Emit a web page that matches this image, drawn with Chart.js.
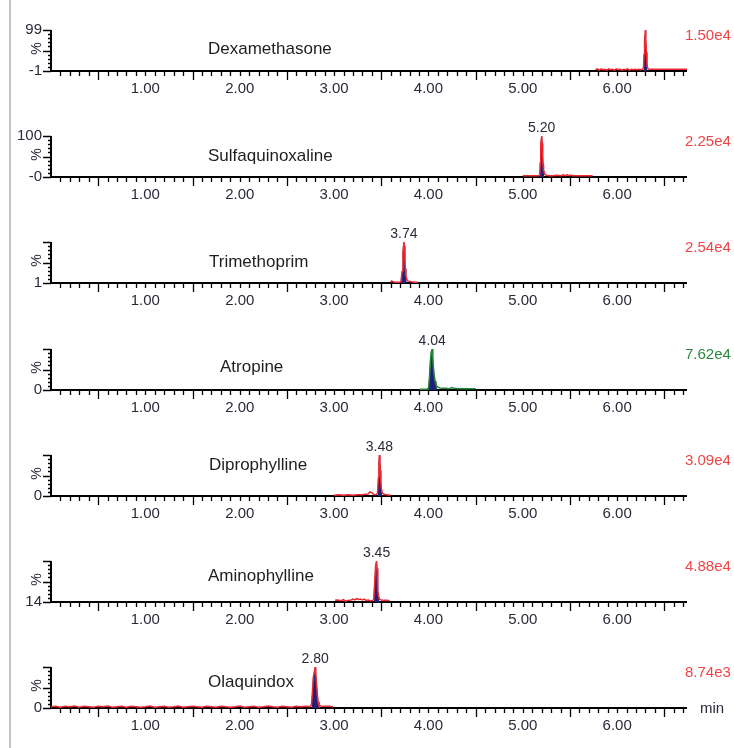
<!DOCTYPE html>
<html lang="en">
<head>
<meta charset="UTF-8">
<title>MRM chromatograms</title>
<style>
  body { margin: 0; width: 734px; height: 748px; overflow: hidden; background: #fff; position: relative; }
  .frame { position: absolute; left: 9px; top: 0; width: 2px; height: 748px; background: #c4c4c4; }
  canvas { position: absolute; left: 0; }
</style>
</head>
<body>
<div class="frame"></div>
<div id="panels"></div>

<script src="https://cdn.jsdelivr.net/npm/chart.js"></script>
<script>
const compounds = ['Dexamethasone', 'Sulfaquinoxaline', 'Trimethoprim', 'Atropine', 'Diprophylline', 'Aminophylline', 'Olaquindox'];
const intensities = ['1.50e4', '2.25e4', '2.54e4', '7.62e4', '3.09e4', '4.88e4', '8.74e3'];
const peakLabels = ['', '5.20', '3.74', '4.04', '3.48', '3.45', '2.80'];
const peakTimes = [6.30, 5.20, 3.74, 4.04, 3.48, 3.45, 2.80];
const yTopLabels = ['99', '100', '', '', '', '', ''];
const yBottomLabels = ['-1', '-0', '1', '0', '0', '14', '0'];
const xTickValues = [1, 2, 3, 4, 5, 6];
const xTickLabels = ['1.00', '2.00', '3.00', '4.00', '5.00', '6.00'];
// integrated (shaded) window of each peak, minutes
const areaStart = [6.28, 5.18, 3.71, 4.00, 3.46, 3.42, 2.75];
const areaEnd = [6.32, 5.24, 3.77, 4.09, 3.51, 3.49, 2.85];

// traces: [time (min), relative intensity %]
const dexaTrace = [[5.77,3],[5.79,5],[5.81,2],[5.83,5],[5.85,3],[5.87,4],[5.89,2],[5.91,5],[5.93,3],[5.95,4],[5.97,2],[5.99,5],
  [6.01,3],[6.03,4],[6.05,2],[6.07,4],[6.09,3],[6.11,5],[6.13,2],[6.15,4],[6.17,3],[6.19,4],[6.21,3],[6.23,4],[6.25,3],[6.27,4],
  [6.28,10],[6.285,40],[6.29,68],[6.295,88],[6.30,100],[6.305,80],[6.31,45],[6.315,20],[6.32,9],[6.33,5],[6.35,4],[6.45,4],
  [6.55,4],[6.65,4],[6.74,4]];
const sulfaTrace = [[5.00,3],[5.05,3],[5.10,3],[5.15,3],[5.17,3],[5.18,6],[5.185,35],[5.19,78],[5.20,100],[5.205,82],[5.21,55],
  [5.215,30],[5.22,17],[5.23,8],[5.25,4],[5.28,3],[5.32,3],[5.36,4],[5.41,3],[5.43,6],[5.45,3],[5.47,6],[5.49,3],[5.51,5],
  [5.53,3],[5.60,3],[5.68,3],[5.74,3]];
const trimTrace = [[3.60,2],[3.61,5],[3.62,4],[3.64,2],[3.67,2],[3.70,2],[3.71,5],[3.72,28],[3.73,75],[3.74,100],[3.745,90],
  [3.75,58],[3.755,35],[3.76,20],[3.77,9],[3.78,5],[3.80,4],[3.82,3],[3.85,2],[3.89,2]];
const atroTrace = [[3.91,2],[3.95,2],[3.99,2],[4.00,5],[4.01,28],[4.02,68],[4.03,93],[4.04,100],[4.045,86],[4.05,62],[4.06,37],
  [4.07,21],[4.08,13],[4.09,9],[4.10,7],[4.12,5],[4.15,4],[4.18,4],[4.22,3],[4.25,6],[4.27,4],[4.32,3],[4.38,3],[4.44,3],[4.50,3]];
const dipTrace = [[3.00,2],[3.05,3],[3.10,2],[3.15,3],[3.20,2],[3.25,3],[3.30,3],[3.33,4],[3.36,5],[3.38,10],[3.40,8],[3.42,4],
  [3.44,3],[3.46,6],[3.47,45],[3.475,80],[3.48,100],[3.485,88],[3.49,62],[3.495,38],[3.50,20],[3.51,7],[3.53,4],[3.56,3],[3.60,2]];
const aminoTrace = [[3.01,4],[3.04,5],[3.07,3],[3.10,6],[3.12,2],[3.15,4],[3.18,5],[3.20,7],[3.22,5],[3.24,8],[3.26,6],[3.28,7],
  [3.30,5],[3.32,7],[3.34,4],[3.36,5],[3.38,3],[3.40,3],[3.42,6],[3.43,45],[3.44,88],[3.45,100],[3.455,82],[3.46,52],[3.465,30],
  [3.47,16],[3.48,7],[3.50,5],[3.53,4],[3.56,4],[3.59,3]];
const olaTrace = [[0.00,3],[0.05,4],[0.10,2],[0.15,4],[0.20,3],[0.25,5],[0.30,2],[0.35,4],[0.40,3],[0.45,2],[0.50,4],[0.55,3],
  [0.60,5],[0.65,2],[0.70,3],[0.75,4],[0.80,2],[0.85,4],[0.90,3],[0.95,2],[1.00,3],[1.05,5],[1.10,2],[1.15,3],[1.20,4],[1.25,2],
  [1.30,3],[1.35,5],[1.40,2],[1.45,3],[1.50,4],[1.55,3],[1.60,2],[1.65,4],[1.70,3],[1.75,2],[1.80,4],[1.85,3],[1.90,2],[1.95,3],
  [2.00,5],[2.05,2],[2.10,3],[2.15,4],[2.20,2],[2.25,3],[2.30,5],[2.35,3],[2.40,2],[2.45,4],[2.50,3],[2.55,2],[2.60,4],[2.65,3],
  [2.70,4],[2.74,3],[2.76,8],[2.77,35],[2.78,75],[2.80,100],[2.805,90],[2.81,70],[2.82,40],[2.83,15],[2.84,6],[2.86,5],[2.90,4],
  [2.95,4],[2.99,3]];
const traces = [dexaTrace, sulfaTrace, trimTrace, atroTrace, dipTrace, aminoTrace, olaTrace];

// layout
const xMax = 6.74;
const baselines = [71, 177, 283, 390, 496, 602, 708];
const nameX = [208, 208, 209, 220, 209, 208, 208];
const nameDy = [19, 20, 20, 18, 10, 15, 15];
const lineColors = ['#ee2a2f', '#ee2a2f', '#ee2a2f', '#23873a', '#ee2a2f', '#ee2a2f', '#ee2a2f'];
const labelColors = ['#f04545', '#f04545', '#f04545', '#2a8a3c', '#f04545', '#f04545', '#f04545'];
const FONT = '"Liberation Sans", Arial, sans-serif';

const chromAxes = {
    id: 'chromAxes',
    beforeDatasetsDraw(chart, args, opts) {
        const { ctx, scales: { x, y } } = chart;
        const left = x.getPixelForValue(0);
        const right = x.getPixelForValue(xMax);
        const base = y.getPixelForValue(0);
        const top = y.getPixelForValue(100);
        ctx.save();
        ctx.strokeStyle = '#000';
        ctx.lineWidth = 1.3;
        ctx.beginPath();
        for (let k = 1; k <= Math.floor(xMax * 10); k++) {
            const px = Math.round(x.getPixelForValue(k / 10)) + 0.5;
            const len = (k % 5 === 0 && k % 10 !== 0) ? 9 : 5;
            ctx.moveTo(px, base);
            ctx.lineTo(px, base + len);
        }
        for (let v = 0; v <= 100; v += 10) {
            const py = Math.round(y.getPixelForValue(v)) + 0.5;
            const len = v % 50 === 0 ? 8 : 3;
            ctx.moveTo(left - len, py);
            ctx.lineTo(left, py);
        }
        ctx.stroke();
        ctx.lineWidth = 2;
        ctx.beginPath();
        ctx.moveTo(left, top);
        ctx.lineTo(left, base);
        ctx.lineTo(right, base);
        ctx.stroke();
        ctx.restore();
    },
    afterDraw(chart, args, opts) {
        const i = opts.index;
        const { ctx, scales: { x, y } } = chart;
        const left = x.getPixelForValue(0);
        const base = y.getPixelForValue(0);
        const top = y.getPixelForValue(100);
        ctx.save();
        ctx.textBaseline = 'middle';

        // y labels
        ctx.fillStyle = '#2a2a3a';
        ctx.font = '15px ' + FONT;
        ctx.textAlign = 'right';
        if (yTopLabels[i]) ctx.fillText(yTopLabels[i], left - 9, top);
        ctx.fillText(yBottomLabels[i], left - 9, base);
        ctx.save();
        ctx.translate(left - 13.5, (top + base) / 2 - 2);
        ctx.rotate(-Math.PI / 2);
        ctx.textAlign = 'center';
        ctx.font = '14px ' + FONT;
        ctx.fillText('%', 0, 0);
        ctx.restore();

        // x tick labels
        ctx.textAlign = 'center';
        ctx.font = '15px ' + FONT;
        xTickValues.forEach((v, k) => ctx.fillText(xTickLabels[k], x.getPixelForValue(v), base + 18));
        if (i === compounds.length - 1) {
            ctx.textAlign = 'left';
            ctx.fillText('min', 700, base + 1);
        }

        // compound name
        ctx.fillStyle = '#1e1e1e';
        ctx.textAlign = 'left';
        ctx.font = '17px ' + FONT;
        ctx.fillText(compounds[i], nameX[i], top + nameDy[i]);

        // retention time of the peak
        if (peakLabels[i]) {
            ctx.fillStyle = '#2a2a3a';
            ctx.textAlign = 'center';
            ctx.font = '14px ' + FONT;
            ctx.fillText(peakLabels[i], x.getPixelForValue(peakTimes[i]), top - 8);
        }

        // intensity
        ctx.fillStyle = labelColors[i];
        ctx.textAlign = 'left';
        ctx.font = '15px ' + FONT;
        ctx.fillText(intensities[i], 685, top + 6);
        ctx.restore();
    }
};

const holder = document.getElementById('panels');

compounds.forEach((name, i) => {
    const canvas = document.createElement('canvas');
    canvas.width = 734;
    canvas.height = 106;
    canvas.style.top = (baselines[i] - 57) + 'px';
    holder.appendChild(canvas);

    const trace = traces[i].map(([t, v]) => ({ x: t, y: v }));
    const area = traces[i]
        .filter(([t]) => t >= areaStart[i] && t <= areaEnd[i])
        .map(([t, v]) => ({ x: t, y: v }));

    new Chart(canvas, {
        type: 'line',
        data: {
            datasets: [
                {
                    label: name,
                    data: trace,
                    borderColor: lineColors[i],
                    borderWidth: 1.5,
                    fill: false
                },
                {
                    label: name + ' area',
                    data: area,
                    borderColor: '#20207a',
                    borderWidth: 0.5,
                    backgroundColor: '#20207a',
                    fill: 'origin'
                }
            ]
        },
        options: {
            responsive: false,
            animation: false,
            devicePixelRatio: 1,
            layout: { padding: { left: 51, right: 47, top: 16, bottom: 49 } },
            elements: { point: { radius: 0 }, line: { tension: 0 } },
            scales: {
                x: { type: 'linear', min: 0, max: xMax, display: false },
                y: { min: 0, max: 100, display: false }
            },
            plugins: {
                legend: { display: false },
                tooltip: { enabled: false },
                chromAxes: { index: i }
            }
        },
        plugins: [chromAxes]
    });
});
</script>
</body>
</html>
